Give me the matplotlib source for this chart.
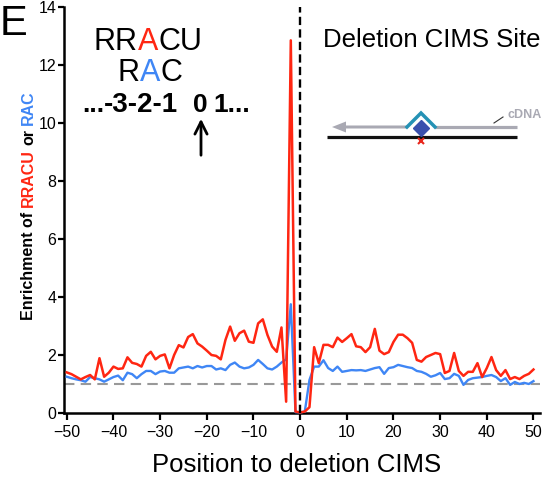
import numpy as np
import matplotlib.pyplot as plt
from matplotlib.patches import FancyArrow

plt.rcParams['font.family'] = ['Liberation Sans', 'DejaVu Sans']

# position relative to the deletion CIMS
positions = np.arange(-50, 51)

# enrichment of RRACU (red)
rracu = [1.40, 1.34, 1.25, 1.16, 1.24, 1.31, 1.16, 1.89, 1.25, 1.39,
         1.60, 1.52, 1.54, 1.92, 1.73, 1.69, 1.60, 1.97, 2.11, 1.85,
         1.97, 2.02, 1.54, 2.00, 2.34, 2.26, 2.62, 2.72, 2.40, 2.29,
         2.15, 2.00, 1.97, 1.85, 2.52, 2.98, 2.49, 2.75, 2.84, 2.46,
         2.42, 3.09, 3.23, 2.69, 2.29, 2.11, 2.95, 0.39, 12.85, 0.05,
         0.02, 0.05, 0.20, 2.27, 1.72, 2.35, 2.35, 2.27, 2.60, 2.45,
         2.58, 2.72, 2.30, 2.27, 2.10, 2.27, 2.90, 2.15, 2.03, 2.10,
         2.45, 2.70, 2.70, 2.58, 2.42, 1.83, 1.77, 1.93, 2.00, 2.07,
         2.03, 1.38, 1.45, 2.07, 1.45, 1.28, 1.42, 1.42, 1.72, 1.24,
         1.55, 1.93, 1.48, 1.28, 1.48, 1.17, 1.24, 1.17, 1.28, 1.35,
         1.50]

# enrichment of RAC (blue)
rac = [1.25, 1.20, 1.16, 1.13, 1.08, 1.24, 1.20, 1.16, 1.08, 1.16,
       1.24, 1.29, 1.13, 1.39, 1.34, 1.20, 1.34, 1.45, 1.45, 1.34,
       1.43, 1.45, 1.39, 1.39, 1.54, 1.57, 1.60, 1.54, 1.62, 1.57,
       1.62, 1.62, 1.50, 1.54, 1.48, 1.66, 1.74, 1.60, 1.54, 1.57,
       1.66, 1.83, 1.69, 1.54, 1.50, 1.60, 1.74, 1.85, 3.75, 0.03,
       0.02, 0.05, 1.14, 1.60, 1.60, 1.82, 1.55, 1.45, 1.60, 1.42,
       1.45, 1.48, 1.47, 1.48, 1.45, 1.50, 1.55, 1.58, 1.35, 1.55,
       1.58, 1.66, 1.62, 1.58, 1.55, 1.45, 1.42, 1.35, 1.25, 1.30,
       1.38, 1.17, 1.20, 1.35, 1.28, 0.97, 1.14, 1.20, 1.22, 1.24,
       1.28, 1.31, 1.24, 1.10, 1.20, 0.97, 1.07, 1.00, 1.04, 1.00,
       1.10]

x_ticks = [-50, -40, -30, -20, -10, 0, 10, 20, 30, 40, 50]
y_ticks = [0, 2, 4, 6, 8, 10, 12, 14]
baseline = 1

RED = '#ff2612'
BLUE = '#3f86f5'

W, H = 548, 480
fig = plt.figure(figsize=(W / 100, H / 100), dpi=100)
ax = fig.add_axes([64 / W, 1 - 413 / H, (540 - 64) / W, (413 - 7) / H])

ax.plot(positions, rac, color=BLUE, lw=1.7, zorder=3, clip_on=False)
ax.plot(positions, rracu, color=RED, lw=1.8, zorder=4, clip_on=False)
ax.axhline(baseline, color='#999999', lw=1.5, dashes=(5, 3), zorder=2)
ax.axvline(0, color='black', lw=1.7, dashes=(3.5, 1.8), zorder=5)

ax.set_xlim(-50.6, 51.4)
ax.set_ylim(0, 14)
ax.set_xticks(x_ticks)
ax.set_yticks(y_ticks)
for s in ['top', 'right']:
    ax.spines[s].set_visible(False)
for s in ['left', 'bottom']:
    ax.spines[s].set_linewidth(1.8)
ax.tick_params(axis='x', direction='out', length=5, width=1.6, pad=3.5, labelsize=11.5)
ax.tick_params(axis='y', direction='out', length=4, width=1.6, pad=1.5, labelsize=11.5)

# overlay in pixel coordinates for the annotations
ov = fig.add_axes([0, 0, 1, 1], zorder=10)
ov.set_xlim(0, W)
ov.set_ylim(H, 0)
ov.axis('off')
ov.patch.set_alpha(0)


def colored_row(x, y, parts, size, weight='normal'):
    t = ov.text(x, y, parts[0][0], color=parts[0][1], fontsize=size,
                fontweight=weight, va='baseline', ha='left')
    for s, c in parts[1:]:
        t = ov.annotate(s, xy=(1, 0), xycoords=t, va='bottom', ha='left',
                        color=c, fontsize=size, fontweight=weight)
    return t


ov.text(0, 35, 'E', fontsize=30, va='baseline', ha='left')

colored_row(94, 50, [('RR', 'black'), ('A', RED), ('CU', 'black')], 22)
colored_row(118, 81, [('R', 'black'), ('A', BLUE), ('C', 'black')], 22)

ov.text(82, 112, '...', fontsize=19, fontweight='bold', ha='left', va='baseline')
ov.text(104, 112, '-3-2-1', fontsize=20, fontweight='bold', ha='left', va='baseline')
ov.text(200, 112, '0', fontsize=19, fontweight='bold', ha='center', va='baseline')
ov.text(213, 112, '1...', fontsize=19, fontweight='bold', ha='left', va='baseline')

ov.annotate('', xy=(201, 116), xytext=(201, 158),
            arrowprops=dict(arrowstyle='->', lw=2, color='black', mutation_scale=22))

ov.text(323, 47, 'Deletion CIMS Site', fontsize=18.5, va='baseline', ha='left')

# cDNA schematic
GRAY = '#a9a9b3'
ov.add_patch(FancyArrow(407, 127, -75, 0, width=3, head_width=11, head_length=14,
                        length_includes_head=True, color=GRAY, lw=0))
ov.plot([435, 517], [127, 127], color=GRAY, lw=2.3, solid_capstyle='butt')
ov.plot([327, 517], [137, 137], color='#111111', lw=2.3, solid_capstyle='butt')
ov.plot([407, 421, 435], [127, 113, 127], color='#2592b5', lw=2.5,
        solid_joinstyle='miter')
ov.plot(421, 128, marker='D', ms=8, color='#3a50ad', lw=0)
ov.plot(421, 141, marker='x', ms=5, mew=1.5, color='#e8261c', lw=0)
ov.plot([494, 503], [123, 117], color='#333333', lw=0.8)
ov.text(507, 118, 'cDNA', fontsize=9, fontweight='bold', color=GRAY, va='baseline')

# axis labels
ov.text(297, 472, 'Position to deletion CIMS', fontsize=18.5, ha='center', va='baseline')

t = ov.text(28.5, 320, 'Enrichment of', rotation=90, ha='center', va='bottom',
            fontsize=11.5, fontweight='bold')
for s, c in [('RRACU', RED), ('or', 'black'), ('RAC', BLUE)]:
    t = ov.annotate(s, xy=(0.5, 1), xycoords=t, xytext=(0, 3.2),
                    textcoords='offset points', rotation=90, ha='center',
                    va='bottom', fontsize=11.5, fontweight='bold', color=c)

fig.savefig('out.png', dpi=100)
